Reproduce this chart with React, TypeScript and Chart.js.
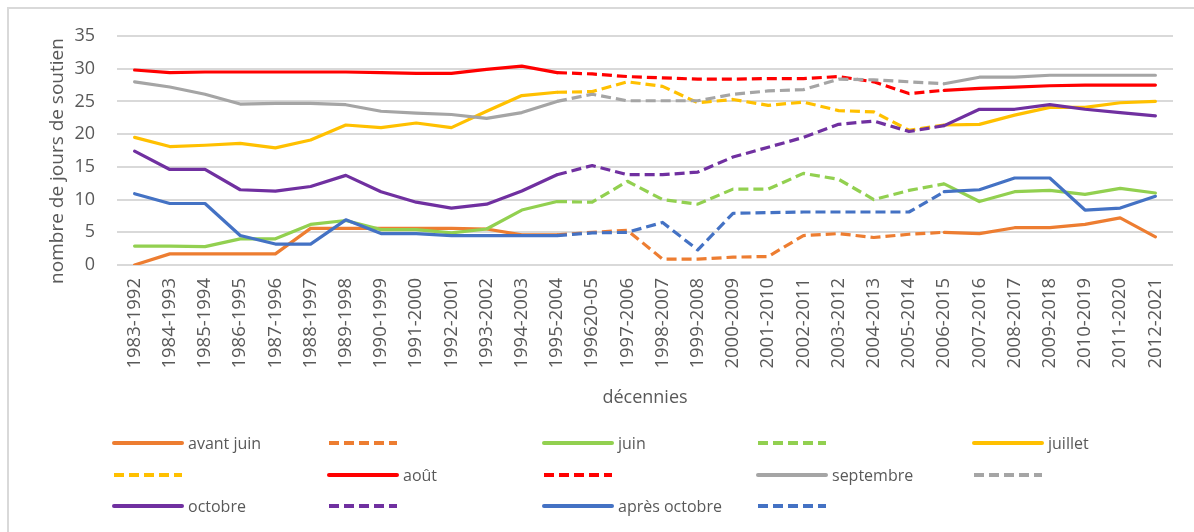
import { useEffect, useRef } from "react";
import { Chart, registerables } from "chart.js";

Chart.register(...registerables);

const decades = [
  "1983-1992", "1984-1993", "1985-1994", "1986-1995", "1987-1996", "1988-1997",
  "1989-1998", "1990-1999", "1991-2000", "1992-2001", "1993-2002", "1994-2003",
  "1995-2004", "199620-05", "1997-2006", "1998-2007", "1999-2008", "2000-2009",
  "2001-2010", "2002-2011", "2003-2012", "2004-2013", "2005-2014", "2006-2015",
  "2007-2016", "2008-2017", "2009-2018", "2010-2019", "2011-2020", "2012-2021",
];

const avantJuin = [0, 1.7, 1.7, 1.7, 1.7, 5.6, 5.6, 5.6, 5.6, 5.6, 5.5, 4.6, 4.6, 5.0, 5.3, 0.9, 0.9, 1.2, 1.3, 4.5, 4.8, 4.2, 4.7, 5.0, 4.8, 5.7, 5.7, 6.2, 7.2, 4.3];
const juin = [2.9, 2.9, 2.8, 4.0, 4.0, 6.2, 6.8, 5.4, 5.4, 4.9, 5.5, 8.4, 9.7, 9.6, 12.8, 10.0, 9.3, 11.6, 11.6, 14.0, 13.1, 10.0, 11.4, 12.4, 9.7, 11.2, 11.4, 10.8, 11.7, 11.0];
const juillet = [19.5, 18.1, 18.3, 18.6, 17.9, 19.1, 21.4, 21.0, 21.7, 21.0, 23.5, 25.9, 26.4, 26.5, 28.0, 27.3, 24.8, 25.3, 24.4, 24.9, 23.6, 23.4, 20.6, 21.4, 21.5, 22.9, 24.1, 24.1, 24.8, 25.0];
const aout = [29.8, 29.4, 29.5, 29.5, 29.5, 29.5, 29.5, 29.4, 29.3, 29.3, 29.9, 30.4, 29.4, 29.2, 28.8, 28.6, 28.4, 28.4, 28.5, 28.5, 28.8, 28.0, 26.2, 26.7, 27.0, 27.2, 27.4, 27.5, 27.5, 27.5];
const septembre = [28.0, 27.2, 26.1, 24.6, 24.7, 24.7, 24.5, 23.5, 23.2, 23.0, 22.4, 23.3, 25.0, 26.1, 25.1, 25.1, 25.1, 26.1, 26.6, 26.8, 28.4, 28.3, 28.0, 27.7, 28.7, 28.7, 29.0, 29.0, 29.0, 29.0];
const octobre = [17.4, 14.6, 14.6, 11.5, 11.3, 12.0, 13.7, 11.2, 9.6, 8.7, 9.3, 11.3, 13.8, 15.2, 13.8, 13.8, 14.2, 16.5, 18.0, 19.5, 21.5, 22.0, 20.4, 21.3, 23.8, 23.8, 24.5, 23.8, 23.3, 22.8];
const apresOctobre = [10.9, 9.4, 9.4, 4.5, 3.2, 3.2, 6.9, 4.8, 4.8, 4.5, 4.5, 4.5, 4.5, 4.9, 5.0, 6.5, 2.3, 7.9, 8.0, 8.1, 8.1, 8.1, 8.1, 11.2, 11.5, 13.3, 13.3, 8.4, 8.7, 10.5];

const seriesLabels = ["avant juin", "juin", "juillet", "août", "septembre", "octobre", "après octobre"];
const seriesColors = ["#ED7D31", "#92D050", "#FFC000", "#FF0000", "#A5A5A5", "#7030A0", "#4472C4"];
const seriesData = [avantJuin, juin, juillet, aout, septembre, octobre, apresOctobre];

// dashed part spans these category indices
const DASH_START = 12;
const DASH_END = 23;

const Y_TITLE = "nombre de jours de soutien";
const X_TITLE = "décennies";

const FONT = "'Open Sans', sans-serif";
const TEXT = "#595959";

const legendCols = [112, 327, 542, 756, 972];
const legendRows = [443, 475, 506];

const yTitlePlugin = {
  id: "yTitleCustom",
  afterDraw(chart: any) {
    const ctx = chart.ctx;
    ctx.save();
    ctx.translate(58, 161);
    ctx.rotate(-Math.PI / 2);
    ctx.font = `19px ${FONT}`;
    ctx.fillStyle = TEXT;
    ctx.textAlign = "center";
    ctx.textBaseline = "middle";
    ctx.fillText(Y_TITLE, 0, 0);
    ctx.restore();
  },
};

export default function App() {
  const ref = useRef<HTMLCanvasElement>(null);

  useEffect(() => {
    if (!ref.current) return;
    const datasets: any[] = [];
    seriesData.forEach((vals, i) => {
      datasets.push({
        label: seriesLabels[i],
        data: vals.map((v, k) => (k <= DASH_START || k >= DASH_END ? v : null)),
        borderColor: seriesColors[i],
        backgroundColor: seriesColors[i],
        borderWidth: 3.2,
        pointRadius: 0,
        tension: 0,
        spanGaps: false,
        borderCapStyle: "round",
        borderJoinStyle: "round",
        order: 100 - 2 * i,
      });
      datasets.push({
        label: "",
        data: vals.map((v, k) => (k >= DASH_START && k <= DASH_END ? v : null)),
        borderColor: seriesColors[i],
        backgroundColor: seriesColors[i],
        borderWidth: 3.2,
        borderDash: [10, 5],
        pointRadius: 0,
        tension: 0,
        spanGaps: false,
        borderJoinStyle: "round",
        order: 99 - 2 * i,
      });
    });

    const chart = new Chart(ref.current, {
      type: "line",
      data: { labels: decades, datasets },
      options: {
        animation: false,
        responsive: false,
        maintainAspectRatio: false,
        layout: { padding: { top: 36, right: 21, bottom: 117, left: 0 } },
        plugins: { legend: { display: false }, tooltip: { enabled: false } },
        scales: {
          x: {
            offset: true,
            grid: { display: false, drawTicks: false },
            border: { display: false },
            ticks: {
              minRotation: 90,
              maxRotation: 90,
              autoSkip: false,
              padding: 13,
              color: TEXT,
              font: { family: FONT, size: 18.5 },
            },
            title: {
              display: true,
              text: X_TITLE,
              color: TEXT,
              font: { family: FONT, size: 18 },
              padding: { top: 0, bottom: 6 },
            },
            afterFit: (s: any) => {
              s.height = 150;
            },
          },
          y: {
            min: 0,
            max: 35,
            ticks: {
              stepSize: 5,
              padding: 22,
              color: TEXT,
              font: { family: FONT, size: 18 },
            },
            grid: { color: "#d9d9d9", lineWidth: 2, drawTicks: false },
            border: { display: false },
            afterFit: (s: any) => {
              s.width = 117;
            },
          },
        },
      },
      plugins: [yTitlePlugin],
    } as any);
    return () => chart.destroy();
  }, []);

  const entries: { label: string; color: string; dashed: boolean }[] = [];
  seriesLabels.forEach((l, i) => {
    entries.push({ label: l, color: seriesColors[i], dashed: false });
    entries.push({ label: "", color: seriesColors[i], dashed: true });
  });

  return (
    <div style={{ position: "fixed", left: 0, top: 0, width: 1194, height: 532, overflow: "hidden", background: "#fff" }}>
      <canvas ref={ref} width={1194} height={532} style={{ position: "absolute", left: 0, top: 0, width: 1194, height: 532, display: "block" }} />
      <div
        style={{
          position: "absolute",
          left: 7,
          top: 7,
          width: 1190,
          height: 530,
          borderTop: "2px solid #d9d9d9",
          borderLeft: "2px solid #d9d9d9",
          boxSizing: "border-box",
          pointerEvents: "none",
        }}
      />
      {entries.map((e, idx) => {
        const col = idx % 5;
        const row = Math.floor(idx / 5);
        const x = legendCols[col];
        const y = legendRows[row];
        return (
          <div key={idx} style={{ position: "absolute", left: x, top: y - 12, height: 24, display: "flex", alignItems: "center" }}>
            <svg width={72} height={8} style={{ display: "block" }}>
              <line
                x1={2}
                y1={4}
                x2={70}
                y2={4}
                stroke={e.color}
                strokeWidth={4}
                strokeLinecap={e.dashed ? "butt" : "round"}
                strokeDasharray={e.dashed ? "10 5" : undefined}
              />
            </svg>
            {e.label ? (
              <span style={{ marginLeft: 4, fontFamily: FONT, fontSize: 16, color: TEXT, whiteSpace: "nowrap", lineHeight: "24px" }}>{e.label}</span>
            ) : null}
          </div>
        );
      })}
    </div>
  );
}
